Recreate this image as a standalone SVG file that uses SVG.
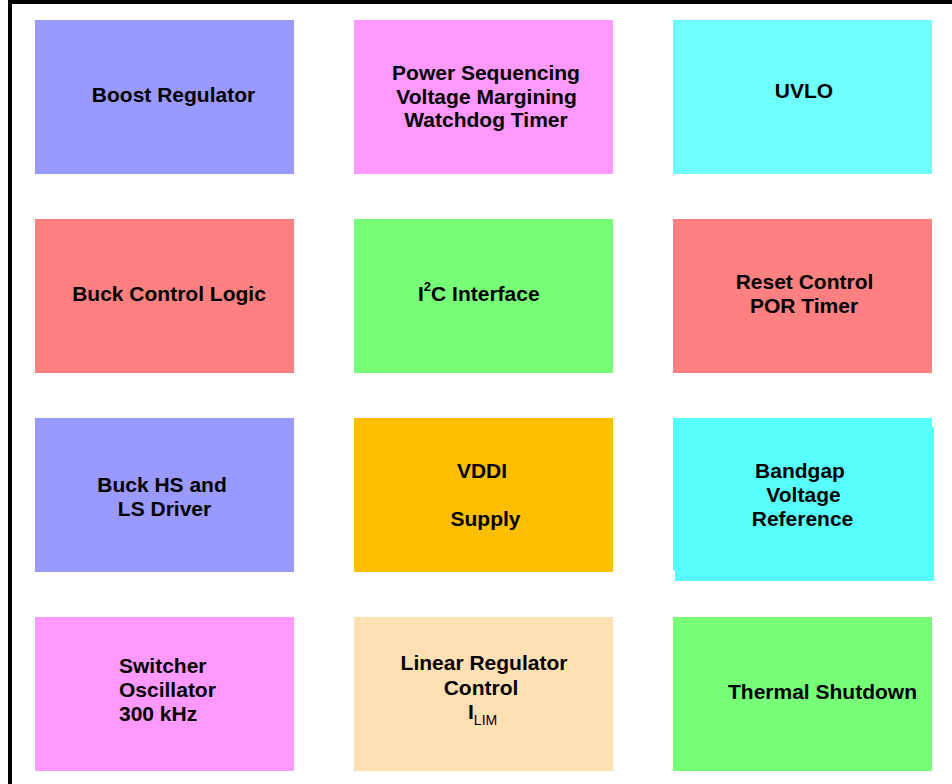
<svg xmlns="http://www.w3.org/2000/svg" width="952" height="784" viewBox="0 0 952 784">
<style>
text{font-family:"Liberation Sans",Arial,sans-serif;font-weight:bold;font-size:21px;fill:#000;}
.m{text-anchor:middle;}
.sub{font-size:14px;font-weight:normal;}
.sup{font-size:13px;}
</style>
<rect width="952" height="784" fill="#FFFFFF"/>
<g id="frame">
<rect x="8" y="0" width="4" height="784" fill="#000"/>
<rect x="8" y="0" width="944" height="4" fill="#000"/>
</g>
<g id="connectors"></g>
<g id="boost"><rect x="35" y="20" width="259" height="154" fill="#9999FF"/><text class="m" x="173.5" y="102">Boost Regulator</text></g>
<g id="powerseq"><rect x="354" y="20" width="259" height="154" fill="#FF99FF"/><text class="m" x="486" y="80">Power Sequencing</text><text class="m" x="486.5" y="103.5">Voltage Margining</text><text class="m" x="486" y="127">Watchdog Timer</text></g>
<g id="uvlo"><rect x="673" y="20" width="259" height="154" fill="#70FFFF"/><text class="m" x="804" y="98">UVLO</text></g>
<g id="buckctrl"><rect x="35" y="219" width="259" height="154" fill="#FF8080"/><text class="m" x="169" y="301">Buck Control Logic</text></g>
<g id="i2c"><rect x="354" y="219" width="259" height="154" fill="#77FF77"/><text x="418" y="301">I<tspan class="sup" dy="-10">2</tspan><tspan dy="10">C Interface</tspan></text></g>
<g id="reset"><rect x="673" y="219" width="259" height="154" fill="#FF8080"/><text class="m" x="804.5" y="288.5">Reset Control</text><text class="m" x="804" y="312.5">POR Timer</text></g>
<g id="buckhs"><rect x="35" y="418" width="259" height="154" fill="#9999FF"/><text class="m" x="162" y="492">Buck HS and</text><text class="m" x="164.5" y="515.5">LS Driver</text></g>
<g id="vddi"><rect x="354" y="418" width="259" height="154" fill="#FFBF00"/><text class="m" x="482" y="478">VDDI</text><text class="m" x="485.5" y="526">Supply</text></g>
<g id="bandgap"><rect x="673" y="418" width="259" height="152" fill="#57FFFF"/><rect x="675" y="427" width="259" height="154" fill="#57FFFF"/><text class="m" x="800" y="478">Bandgap</text><text class="m" x="803.5" y="502">Voltage</text><text class="m" x="802.5" y="526">Reference</text></g>
<g id="switcher"><rect x="35" y="617" width="259" height="154" fill="#FF99FF"/><text x="119" y="673">Switcher</text><text x="119" y="697">Oscillator</text><text x="119" y="720.5">300 kHz</text></g>
<g id="linear"><rect x="354" y="617" width="259" height="154" fill="#FFDFB4"/><text class="m" x="484" y="670">Linear Regulator</text><text class="m" x="481" y="695">Control</text><text x="468" y="719">I<tspan class="sub" dy="6">LIM</tspan></text></g>
<g id="thermal"><rect x="673" y="617" width="259" height="154" fill="#77FF77"/><text class="m" x="822.5" y="698.5">Thermal Shutdown</text></g>
</svg>
